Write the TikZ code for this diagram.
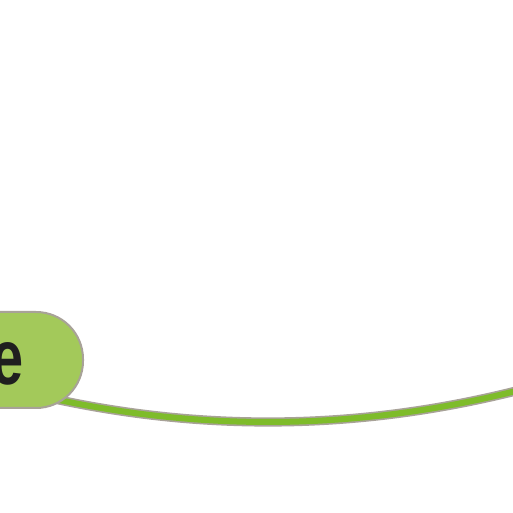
\documentclass[tikz,border=0pt]{standalone}
\usepackage{fontspec}
\newfontfamily\topicfont[FakeStretch=0.74]{Liberation Sans Bold}
\usetikzlibrary{backgrounds}
\definecolor{topicgreen}{HTML}{A3C95A}
\definecolor{linkgreen}{HTML}{7EBC2A}
\definecolor{rimgrey}{HTML}{A8A298}

\begin{document}
\begin{tikzpicture}[x=1pt,y=1pt,
   topic/.style={draw=rimgrey, line width=2pt, fill=topicgreen,
     rounded corners=47pt, minimum height=96pt, text width=150pt,
     text height=49pt, align=right, inner xsep=59pt, inner ysep=0pt,
     font=\topicfont\fontsize{78}{78}\selectfont, text=black!88},
   link/.style={draw=rimgrey, line width=1.6pt, double=linkgreen,
     double distance=6pt}]
   \useasboundingbox (0,0) rectangle (513,513);
   \clip (0,0) rectangle (513,513);
   \node[topic, anchor=east] (topic) at (84,153) {e};
   \coordinate (away) at (560,134);
   \begin{scope}[on background layer]
    \draw[link] ([shift={(-64,18)}]topic.south east)
      .. controls (200,77) and (380,81) .. (away);
   \end{scope}
\end{tikzpicture}
\end{document}
